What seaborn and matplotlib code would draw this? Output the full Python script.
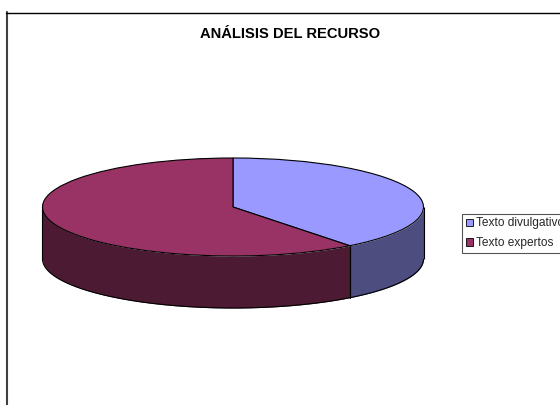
import numpy as np
import matplotlib
matplotlib.use("Agg")
import matplotlib.pyplot as plt
from matplotlib.lines import Line2D
import seaborn as sns

categories = ["Texto divulgativo", "Texto expertos"]
values = [39.5, 60.5]
title = "ANÁLISIS DEL RECURSO"
top_colors = ["#9999FF", "#993366"]
side_colors = ["#4D4D80", "#4D1A33"]

sns.set_theme(style="white")
plt.rcParams["font.family"] = ["Liberation Sans", "DejaVu Sans"]

W, H = 560, 405
cx, cy, rx, ry, depth = 233.0, 207.0, 190.5, 49.0, 52.0

fig = plt.figure(figsize=(W / 100, H / 100), dpi=100, facecolor="white")
ax = fig.add_axes([0, 0, 1, 1])

wedges, _ = ax.pie(values, colors=top_colors, startangle=90, counterclock=False,
                   radius=1.0, center=(0, 0),
                   wedgeprops=dict(edgecolor="black", linewidth=0.8, zorder=3))
ax.set_aspect("auto")
ax.set_xlim(-cx / rx, (W - cx) / rx)
ax.set_ylim(-(H - cy) / ry, cy / ry)
ax.set_frame_on(False)
d = depth / ry

# side walls, derived from the shares
start = 90.0
total = sum(values)
for val, col in zip(values, side_colors):
    end = start - 360.0 * val / total
    lo, hi = end % 360, start % 360
    spans = [(lo, hi)] if lo < hi else [(lo, 360), (0, hi)]
    for a, b in spans:
        a2, b2 = max(a, 180), min(b, 360)
        if a2 >= b2:
            continue
        t = np.radians(np.linspace(a2, b2, 200))
        x, y = np.cos(t), np.sin(t)
        ax.fill_between(x, y, y - d, color=col, linewidth=0, zorder=1)
        ax.plot(x, y - d, color="black", lw=0.8, zorder=2, solid_capstyle="butt")
        for e in (a2, b2):
            er = np.radians(e)
            ax.plot([np.cos(er)] * 2, [np.sin(er), np.sin(er) - d],
                    color="black", lw=0.8, zorder=2, solid_capstyle="butt")
    start = end

fig.text(290 / W, 1 - 33.5 / H, title, ha="center", va="center",
         fontsize=10.6, fontweight="bold", color="black")

fig.add_artist(Line2D([6.8 / W, 6.8 / W], [0, 1 - 12 / H], color="#404040", lw=1.5))
fig.add_artist(Line2D([6 / W, 1], [1 - 12.5 / H, 1 - 12.5 / H], color="black", lw=1.0))

leg = ax.legend(wedges, categories, loc="upper left",
                bbox_to_anchor=(462 / W, 1 - 213.5 / H), bbox_transform=fig.transFigure,
                borderaxespad=0, fontsize=8.6, frameon=True, fancybox=False,
                edgecolor="#555555", framealpha=1, handlelength=0.58, handleheight=0.58,
                handletextpad=0.3, labelspacing=0.65, borderpad=0.33)
leg.get_frame().set_linewidth(0.8)
for h in leg.legend_handles:
    h.set_edgecolor("black")
    h.set_linewidth(0.6)

fig.savefig("out.png", dpi=100)
